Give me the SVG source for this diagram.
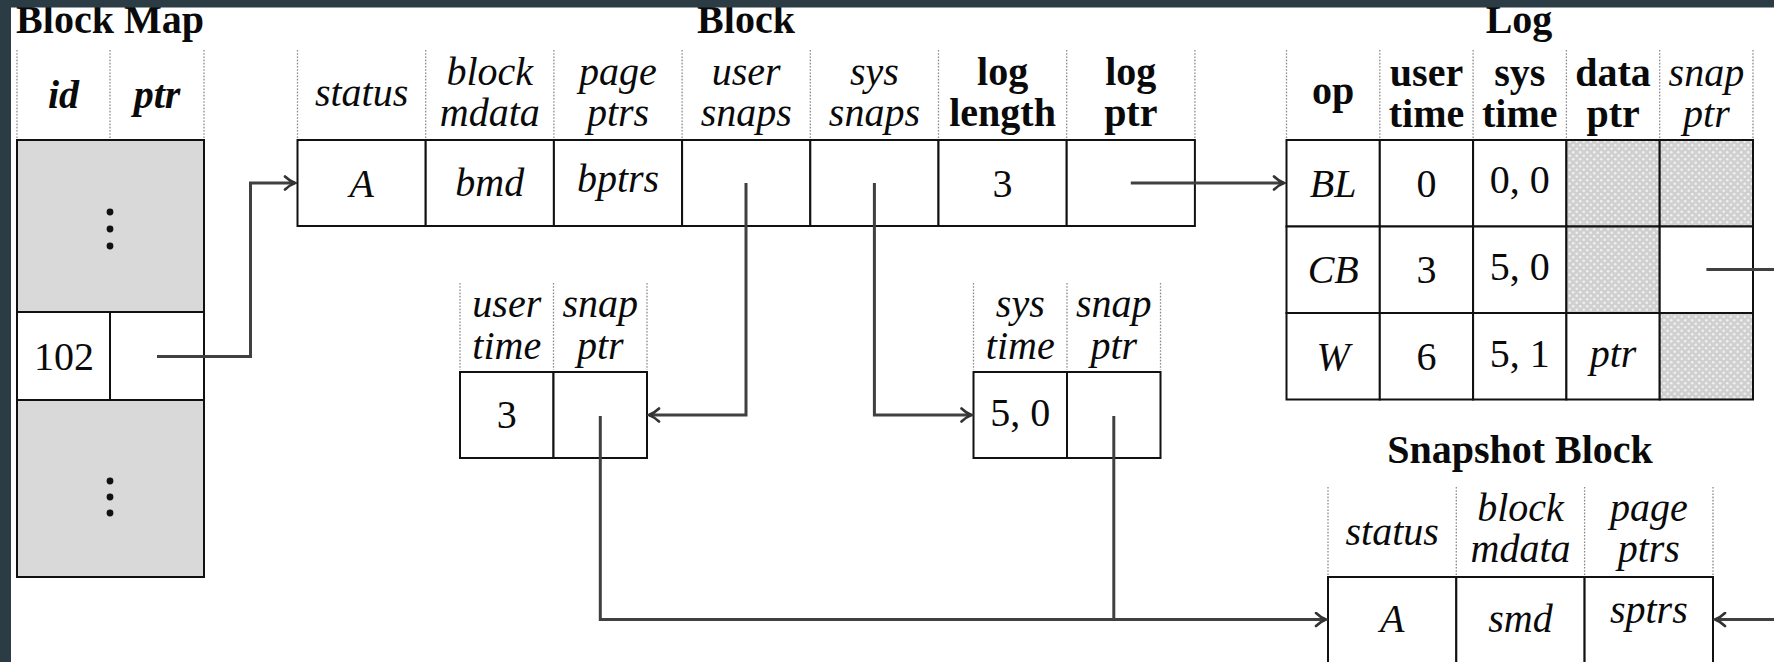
<svg xmlns="http://www.w3.org/2000/svg" width="1774" height="662" viewBox="0 0 1774 662">
  <style>
    .cell { fill: #ffffff; stroke: #111111; stroke-width: 2; }
    .shade { fill: #d9d9d9; stroke: #111111; stroke-width: 2; }
    .hatch { fill: url(#dots); stroke: #111111; stroke-width: 2; }
    .sep { stroke: #8a8a8a; stroke-width: 1.3; stroke-dasharray: 1.6 1.6; fill: none; }
    .t { font-family: "Liberation Serif", "Times New Roman", serif; font-size: 40px; text-anchor: middle; fill: #0a0a0a; }
    .i { font-style: italic; }
    .b { font-weight: bold; }
    .title { font-family: "Liberation Serif", "Times New Roman", serif; font-size: 40px; font-weight: bold; text-anchor: middle; fill: #0a0a0a; }
    .conn { fill: none; stroke: #404040; stroke-width: 3; }
    .dot { fill: #111111; }
  </style>
  <defs>
    <pattern id="dots" width="7" height="7" patternUnits="userSpaceOnUse">
      <rect width="7" height="7" fill="#d0d0d0"/>
      <circle cx="1.75" cy="1.75" r="1.3" fill="#f0f0f0"/>
      <circle cx="5.25" cy="5.25" r="1.3" fill="#f0f0f0"/>
    </pattern>
    <marker id="arrow" viewBox="-12 -8 14 16" refX="0" refY="0" markerWidth="14" markerHeight="16" markerUnits="userSpaceOnUse" orient="auto">
      <path d="M -10,-6.5 C -6,-2.6 -2.2,-0.8 0,0 C -2.2,0.8 -6,2.6 -10,6.5" fill="none" stroke="#333333" stroke-width="2.6" stroke-linecap="round"/>
    </marker>
  </defs>

  <rect x="0" y="0" width="1774" height="662" fill="#ffffff"/>

  <!-- Block Map -->
  <g id="block-map">
    <text class="title" x="110" y="33">Block Map</text>
    <line class="sep" x1="17" y1="50" x2="17" y2="138"/>
    <line class="sep" x1="110" y1="50" x2="110" y2="138"/>
    <line class="sep" x1="204" y1="50" x2="204" y2="138"/>
    <text class="t b i" x="63.5" y="108">id</text>
    <text class="t b i" x="157" y="108">ptr</text>
    <rect class="shade" x="17" y="140" width="187" height="172"/>
    <circle class="dot" cx="110" cy="212" r="3.4"/>
    <circle class="dot" cx="110" cy="229" r="3.4"/>
    <circle class="dot" cx="110" cy="246" r="3.4"/>
    <rect class="cell" x="17" y="312" width="93" height="88"/>
    <rect class="cell" x="110" y="312" width="94" height="88"/>
    <text class="t" x="64" y="370">102</text>
    <rect class="shade" x="17" y="400" width="187" height="177"/>
    <circle class="dot" cx="110" cy="481" r="3.4"/>
    <circle class="dot" cx="110" cy="497" r="3.4"/>
    <circle class="dot" cx="110" cy="513" r="3.4"/>
  </g>

  <!-- Block -->
  <g id="block">
    <text class="title" x="746" y="33">Block</text>
    <line class="sep" x1="297.5" y1="50" x2="297.5" y2="138"/>
    <line class="sep" x1="425.7" y1="50" x2="425.7" y2="138"/>
    <line class="sep" x1="553.9" y1="50" x2="553.9" y2="138"/>
    <line class="sep" x1="682.1" y1="50" x2="682.1" y2="138"/>
    <line class="sep" x1="810.3" y1="50" x2="810.3" y2="138"/>
    <line class="sep" x1="938.5" y1="50" x2="938.5" y2="138"/>
    <line class="sep" x1="1066.7" y1="50" x2="1066.7" y2="138"/>
    <line class="sep" x1="1194.9" y1="50" x2="1194.9" y2="138"/>
    <text class="t i" x="361.6" y="106">status</text>
    <text class="t i" x="489.8" y="84.5">block</text>
    <text class="t i" x="489.8" y="125.5">mdata</text>
    <text class="t i" x="618" y="84.5">page</text>
    <text class="t i" x="618" y="125.5">ptrs</text>
    <text class="t i" x="746.2" y="84.5">user</text>
    <text class="t i" x="746.2" y="125.5">snaps</text>
    <text class="t i" x="874.4" y="84.5">sys</text>
    <text class="t i" x="874.4" y="125.5">snaps</text>
    <text class="t b" x="1002.6" y="84.5">log</text>
    <text class="t b" x="1002.6" y="125.5">length</text>
    <text class="t b" x="1130.8" y="84.5">log</text>
    <text class="t b" x="1130.8" y="125.5">ptr</text>
    <rect class="cell" x="297.5" y="140" width="128.2" height="86"/>
    <rect class="cell" x="425.7" y="140" width="128.2" height="86"/>
    <rect class="cell" x="553.9" y="140" width="128.2" height="86"/>
    <rect class="cell" x="682.1" y="140" width="128.2" height="86"/>
    <rect class="cell" x="810.3" y="140" width="128.2" height="86"/>
    <rect class="cell" x="938.5" y="140" width="128.2" height="86"/>
    <rect class="cell" x="1066.7" y="140" width="128.2" height="86"/>
    <text class="t i" x="361.6" y="197">A</text>
    <text class="t i" x="489.8" y="196">bmd</text>
    <text class="t i" x="618" y="192">bptrs</text>
    <text class="t" x="1002.6" y="197">3</text>
  </g>

  <!-- Log -->
  <g id="log">
    <text class="title" x="1519" y="33">Log</text>
    <line class="sep" x1="1286.5" y1="50" x2="1286.5" y2="138"/>
    <line class="sep" x1="1379.8" y1="50" x2="1379.8" y2="138"/>
    <line class="sep" x1="1473.1" y1="50" x2="1473.1" y2="138"/>
    <line class="sep" x1="1566.4" y1="50" x2="1566.4" y2="138"/>
    <line class="sep" x1="1659.7" y1="50" x2="1659.7" y2="138"/>
    <line class="sep" x1="1753" y1="50" x2="1753" y2="138"/>
    <text class="t b" x="1333.2" y="104">op</text>
    <text class="t b" x="1426.5" y="85.5">user</text>
    <text class="t b" x="1426.5" y="126.5">time</text>
    <text class="t b" x="1519.8" y="85.5">sys</text>
    <text class="t b" x="1519.8" y="126.5">time</text>
    <text class="t b" x="1613.1" y="85.5">data</text>
    <text class="t b" x="1613.1" y="126.5">ptr</text>
    <text class="t i" x="1706.4" y="85.5">snap</text>
    <text class="t i" x="1706.4" y="126.5">ptr</text>

    <rect class="cell" x="1286.5" y="140" width="93.3" height="86.5"/>
    <rect class="cell" x="1379.8" y="140" width="93.3" height="86.5"/>
    <rect class="cell" x="1473.1" y="140" width="93.3" height="86.5"/>
    <rect class="hatch" x="1566.4" y="140" width="93.3" height="86.5"/>
    <rect class="hatch" x="1659.7" y="140" width="93.3" height="86.5"/>

    <rect class="cell" x="1286.5" y="226.5" width="93.3" height="86.5"/>
    <rect class="cell" x="1379.8" y="226.5" width="93.3" height="86.5"/>
    <rect class="cell" x="1473.1" y="226.5" width="93.3" height="86.5"/>
    <rect class="hatch" x="1566.4" y="226.5" width="93.3" height="86.5"/>
    <rect class="cell" x="1659.7" y="226.5" width="93.3" height="86.5"/>

    <rect class="cell" x="1286.5" y="313" width="93.3" height="86.5"/>
    <rect class="cell" x="1379.8" y="313" width="93.3" height="86.5"/>
    <rect class="cell" x="1473.1" y="313" width="93.3" height="86.5"/>
    <rect class="cell" x="1566.4" y="313" width="93.3" height="86.5"/>
    <rect class="hatch" x="1659.7" y="313" width="93.3" height="86.5"/>

    <text class="t i" x="1333.2" y="197">BL</text>
    <text class="t" x="1426.5" y="197">0</text>
    <text class="t" x="1519.8" y="193">0, 0</text>
    <text class="t i" x="1333.2" y="283">CB</text>
    <text class="t" x="1426.5" y="283">3</text>
    <text class="t" x="1519.8" y="280">5, 0</text>
    <text class="t i" x="1333.2" y="370">W</text>
    <text class="t" x="1426.5" y="370">6</text>
    <text class="t" x="1519.8" y="367">5, 1</text>
    <text class="t i" x="1613.1" y="367">ptr</text>
  </g>

  <!-- user snapshot entry -->
  <g id="user-snap">
    <line class="sep" x1="460" y1="283" x2="460" y2="370"/>
    <line class="sep" x1="553.5" y1="283" x2="553.5" y2="370"/>
    <line class="sep" x1="647" y1="283" x2="647" y2="370"/>
    <text class="t i" x="506.8" y="317">user</text>
    <text class="t i" x="506.8" y="358.5">time</text>
    <text class="t i" x="600.3" y="317">snap</text>
    <text class="t i" x="600.3" y="358.5">ptr</text>
    <rect class="cell" x="460" y="372" width="93.5" height="86"/>
    <rect class="cell" x="553.5" y="372" width="93.5" height="86"/>
    <text class="t" x="506.8" y="428">3</text>
  </g>

  <!-- sys snapshot entry -->
  <g id="sys-snap">
    <line class="sep" x1="973.5" y1="283" x2="973.5" y2="370"/>
    <line class="sep" x1="1067" y1="283" x2="1067" y2="370"/>
    <line class="sep" x1="1160.5" y1="283" x2="1160.5" y2="370"/>
    <text class="t i" x="1020.3" y="317">sys</text>
    <text class="t i" x="1020.3" y="358.5">time</text>
    <text class="t i" x="1113.8" y="317">snap</text>
    <text class="t i" x="1113.8" y="358.5">ptr</text>
    <rect class="cell" x="973.5" y="372" width="93.5" height="86"/>
    <rect class="cell" x="1067" y="372" width="93.5" height="86"/>
    <text class="t" x="1020.3" y="426">5, 0</text>
  </g>

  <!-- Snapshot Block -->
  <g id="snapshot-block">
    <text class="title" x="1520" y="463">Snapshot Block</text>
    <line class="sep" x1="1328" y1="487" x2="1328" y2="575"/>
    <line class="sep" x1="1456.3" y1="487" x2="1456.3" y2="575"/>
    <line class="sep" x1="1584.6" y1="487" x2="1584.6" y2="575"/>
    <line class="sep" x1="1713" y1="487" x2="1713" y2="575"/>
    <text class="t i" x="1392.2" y="545">status</text>
    <text class="t i" x="1520.5" y="520.5">block</text>
    <text class="t i" x="1520.5" y="562">mdata</text>
    <text class="t i" x="1648.8" y="520.5">page</text>
    <text class="t i" x="1648.8" y="562">ptrs</text>
    <rect class="cell" x="1328" y="577" width="128.3" height="88"/>
    <rect class="cell" x="1456.3" y="577" width="128.3" height="88"/>
    <rect class="cell" x="1584.6" y="577" width="128.4" height="88"/>
    <text class="t i" x="1392.2" y="632">A</text>
    <text class="t i" x="1520.5" y="632">smd</text>
    <text class="t i" x="1648.8" y="623">sptrs</text>
  </g>

  <!-- pointers between the structures -->
  <g id="connectors">
    <path class="conn" d="M 157,356.5 H 250.5 V 183 H 295" marker-end="url(#arrow)"/>
    <path class="conn" d="M 1130.8,183 H 1284" marker-end="url(#arrow)"/>
    <path class="conn" d="M 746,183 V 415 H 649" marker-end="url(#arrow)"/>
    <path class="conn" d="M 874.4,183 V 415 H 971.5" marker-end="url(#arrow)"/>
    <path class="conn" d="M 600.3,416 V 619.5 H 1326" marker-end="url(#arrow)"/>
    <path class="conn" d="M 1113.8,416 V 619.5"/>
    <path class="conn" d="M 1706.4,269.5 H 1774"/>
    <path class="conn" d="M 1774,619.5 H 1715" marker-end="url(#arrow)"/>
  </g>

  <!-- dark frame along the top and left edges -->
  <rect x="0" y="0" width="1774" height="7.5" fill="#2b3c45"/>
  <rect x="0" y="0" width="11" height="662" fill="#2b3c45"/>
</svg>
